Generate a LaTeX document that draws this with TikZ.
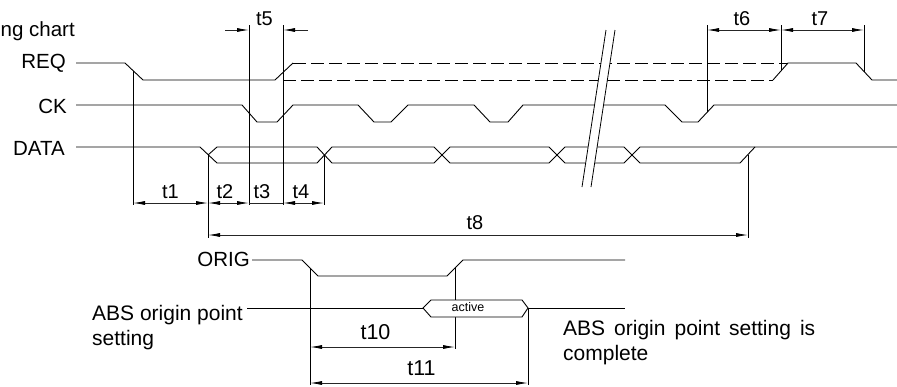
\documentclass[tikz,border=0pt]{standalone}
\usepackage{fontspec}
\setmainfont{Liberation Sans}
\usetikzlibrary{arrows.meta}
\begin{document}
\begin{tikzpicture}[x=1pt,y=-1pt,
  wave/.style={line width=0.9pt, line join=miter},
  dashwave/.style={line width=0.9pt, dash pattern=on 13pt off 5pt},
  ext/.style={line width=0.8pt},
  dimline/.style={line width=0.8pt, black!85},
  dimboth/.style={dimline, {Latex[length=12pt,width=4pt,black]}-{Latex[length=12pt,width=4pt,black]}},
  dimend/.style={dimline, -{Latex[length=12pt,width=4pt,black]}},
  signame/.style={inner sep=0pt, font=\fontsize{20.5}{24}\selectfont},
  tlab/.style={inner sep=0pt, font=\fontsize{20}{23}\selectfont},
  tlabbig/.style={inner sep=0pt, font=\fontsize{21.5}{24}\selectfont},
  bodytext/.style={inner sep=0pt, font=\fontsize{21}{25}\selectfont, align=left},
]
\useasboundingbox (0,0) rectangle (897,386);

% ---- titles and signal names
\node[signame, anchor=base west] (title) at (0.5,36) {ng chart};
\node[signame, anchor=base east] (req) at (66,68) {REQ};
\node[signame, anchor=base east] (ck) at (67,113) {CK};
\node[signame, anchor=base east] (data) at (65,155) {DATA};
\node[signame, anchor=base east] (orig) at (250,266) {ORIG};

% ---- REQ
\draw[wave] (76,63) -- (125,63) -- (143,80) -- (275,80) -- (293,63);
\draw[dashwave] (293,63) -- (788,63);
\draw[dashwave] (283,80) -- (773,80);
\draw[wave] (773,80) -- (788,63) -- (856,63) -- (872,80) -- (897,80);

% ---- CK
\draw[wave] (76,105) -- (242,105) -- (257,122) -- (277,122) -- (293,105)
  -- (358,105) -- (374,122) -- (391,122) -- (408,105)
  -- (474,105) -- (490,122) -- (508,122) -- (523,105)
  -- (665,105) -- (682,122) -- (698,122) -- (714,105) -- (897,105);

% ---- DATA
\draw[wave] (76,147) -- (200,147) -- (217,163) -- (317,163) -- (332,147)
  -- (434,147) -- (450,163) -- (549,163) -- (565,147)
  -- (624,147) -- (640,163) -- (740,163) -- (755,147);
\draw[wave] (208,155) -- (217,147) -- (317,147) -- (332,163)
  -- (434,163) -- (450,147) -- (549,147) -- (565,163)
  -- (624,163) -- (640,147) -- (897,147);

% ---- break mark
\fill[white] (606,30) -- (615,30) -- (591,187) -- (582,187) -- cycle;
\draw[ext] (606,30) -- (582,187);
\draw[ext] (615,30) -- (591,187);

% ---- extension lines (named ends)
\coordinate (a1) at (133,70.6);  \coordinate (a2) at (133,205);
\coordinate (b1) at (249,25);    \coordinate (b2) at (249,205);
\coordinate (c1) at (283,25);    \coordinate (c2) at (283,205);
\coordinate (d1) at (208,155);   \coordinate (d2) at (208,238);
\coordinate (e1) at (324,155);   \coordinate (e2) at (324,205);
\coordinate (f1) at (748,155);   \coordinate (f2) at (748,238);
\coordinate (g1) at (707,25);    \coordinate (g2) at (707,112.4);
\coordinate (h1) at (781,25);    \coordinate (h2) at (781,71);
\coordinate (i1) at (864,25);    \coordinate (i2) at (864,71.5);
\coordinate (j1) at (310,268);   \coordinate (j2) at (310,385);
\coordinate (k1) at (455,268);   \coordinate (k2) at (455,349);
\coordinate (l1) at (528,308);   \coordinate (l2) at (528,385);
\foreach \p in {a,b,c,d,e,f,g,h,i,j,k,l} \draw[ext] (\p1) -- (\p2);

% ---- dimension lines
\coordinate (t1a) at (133,203); \coordinate (t1b) at (208,203);
\coordinate (t2b) at (249,203); \coordinate (t3b) at (283,203);
\coordinate (t4b) at (324,203);
\draw[dimboth] (t1a) -- (t1b);
\draw[dimboth] (t1b) -- (t2b);
\draw[dimline] (t2b) -- (t3b);
\draw[dimboth] (t3b) -- (t4b);
\node[tlab] (lt1) at (170.5,191.5) {t1};
\node[tlab] (lt2) at (225,191.5) {t2};
\node[tlab] (lt3) at (262,191.5) {t3};
\node[tlab] (lt4) at (301,191.5) {t4};

\coordinate (t5l) at (225,30); \coordinate (t5a) at (249,30);
\coordinate (t5b) at (283,30); \coordinate (t5r) at (308,30);
\draw[dimend] (t5l) -- (t5a);
\draw[dimend] (t5r) -- (t5b);
\node[tlab] (lt5) at (264.5,19) {t5};

\coordinate (t6a) at (707,30); \coordinate (t6b) at (781,30); \coordinate (t7b) at (864,30);
\draw[dimboth] (t6a) -- (t6b);
\draw[dimboth] (t6b) -- (t7b);
\node[tlab] (lt6) at (742,19) {t6};
\node[tlab] (lt7) at (820,19) {t7};

\coordinate (t8a) at (208,235); \coordinate (t8b) at (748,235);
\draw[dimboth] (t8a) -- (t8b);
\node[tlab] (lt8) at (475,222.5) {t8};

% ---- ORIG
\draw[wave] (orig.base east) ++(2,-6) coordinate (o0) -- (302,260) -- (318,276) -- (447,276) -- (463,260) -- (625,260);

% ---- ABS origin point setting
\draw[wave] (247,308) -- (423,308);
\draw[wave] (528,308) -- (625,308);
\draw[wave, fill=white] (423,308) -- (431,300) -- (522,300) -- (528,308) -- (522,317) -- (431,317) -- cycle;
\node[inner sep=0pt, font=\fontsize{12.5}{14}\selectfont] (act) at (468,307) {active};

\coordinate (t10a) at (310,347); \coordinate (t10b) at (455,347);
\coordinate (t11a) at (310,383); \coordinate (t11b) at (528,383);
\draw[dimboth] (t10a) -- (t10b);
\draw[dimboth] (t11a) -- (t11b);
\node[tlabbig] (lt10) at (375.5,332.5) {t10};
\node[tlabbig] (lt11) at (421.5,368) {t11};

\node[bodytext, anchor=base west] (abs1) at (92,320) {ABS origin point};
\node[bodytext, anchor=base west] (abs2) at (92,345) {setting};
\node[bodytext, anchor=base west] (cmp1) at (563,335) {\makebox[252pt][s]{ABS origin point setting is}};
\node[bodytext, anchor=base west] (cmp2) at (563,360) {complete};
\end{tikzpicture}
\end{document}
